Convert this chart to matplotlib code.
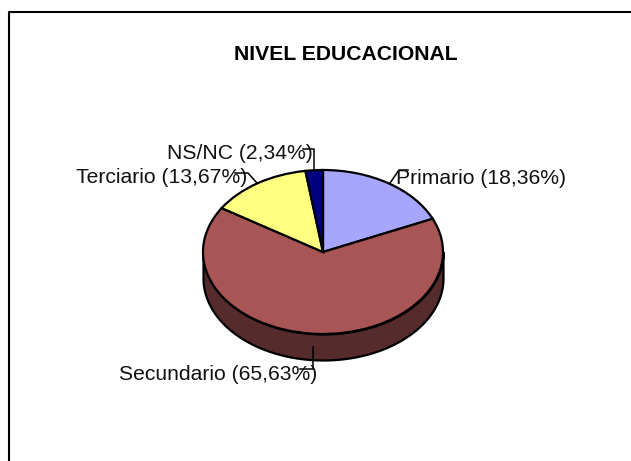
import numpy as np
import matplotlib
matplotlib.use('Agg')
import matplotlib.pyplot as plt

plt.rcParams['font.family'] = ['Liberation Sans', 'DejaVu Sans']

# datos del grafico
categorias = ['Primario', 'Secundario', 'Terciario', 'NS/NC']
valores = [18.36, 65.63, 13.67, 2.34]
etiquetas = ['Primario (18,36%)', 'Secundario (65,63%)', 'Terciario (13,67%)', 'NS/NC (2,34%)']
colores = ['#A6A6FF', '#A85555', '#FFFF80', '#000080']
titulo = 'NIVEL EDUCACIONAL'

W, H = 631, 461
fig = plt.figure(figsize=(W / 100, H / 100), dpi=100)

# capa en pixeles para marco, textos y lineas guia (va encima de la torta)
bg = fig.add_axes([0, 0, 1, 1], zorder=5)
bg.set_xlim(0, W)
bg.set_ylim(H, 0)
bg.axis('off')
bg.plot([9, 9, 631], [461, 12, 12], color='black', lw=1.5, solid_capstyle='butt')

# la torta: circulo unidad deformado a elipse (aspect auto)
cx, cy, rx, ry = 323, 252, 120, 82
prof = 26 / ry
ax = fig.add_axes([(cx - rx) / W, 1 - (cy + ry) / H, 2 * rx / W, 2 * ry / H], zorder=1)
ax.pie(valores, colors=colores, startangle=90, counterclock=False, radius=1,
       wedgeprops={'edgecolor': 'black', 'linewidth': 1.6, 'zorder': 3})
ax.set_aspect('auto')
ax.set_xlim(-1, 1)
ax.set_ylim(-1, 1)
for p in ax.patches:
    p.set_clip_on(False)

# lado de la torta
t = np.linspace(np.pi, 2 * np.pi, 200)
side = ax.fill_between(np.cos(t), np.sin(t), np.sin(t) - prof, facecolor='#552B2B',
                       edgecolor='black', linewidth=1.6, clip_on=False, zorder=1)

bg.text(346, 54, titulo, fontsize=15.2, fontweight='bold', ha='center', va='center')
bg.text(396, 178, etiquetas[0], fontsize=15.2, ha='left', va='center', color='#111111')
bg.text(119, 374, etiquetas[1], fontsize=15.2, ha='left', va='center', color='#111111')
bg.text(76, 177, etiquetas[2], fontsize=15.2, ha='left', va='center', color='#111111')
bg.text(167, 153, etiquetas[3], fontsize=15.2, ha='left', va='center', color='#111111')

# lineas guia
guia = {'color': 'black', 'lw': 1.1}
bg.plot([408, 399, 390], [170, 170, 183], **guia)
bg.plot([300, 313, 313], [369, 369, 347], **guia)
bg.plot([235, 248, 257], [173, 173, 183], **guia)
bg.plot([303, 314, 314], [149, 149, 170], **guia)

fig.savefig('out.png', dpi=100)
